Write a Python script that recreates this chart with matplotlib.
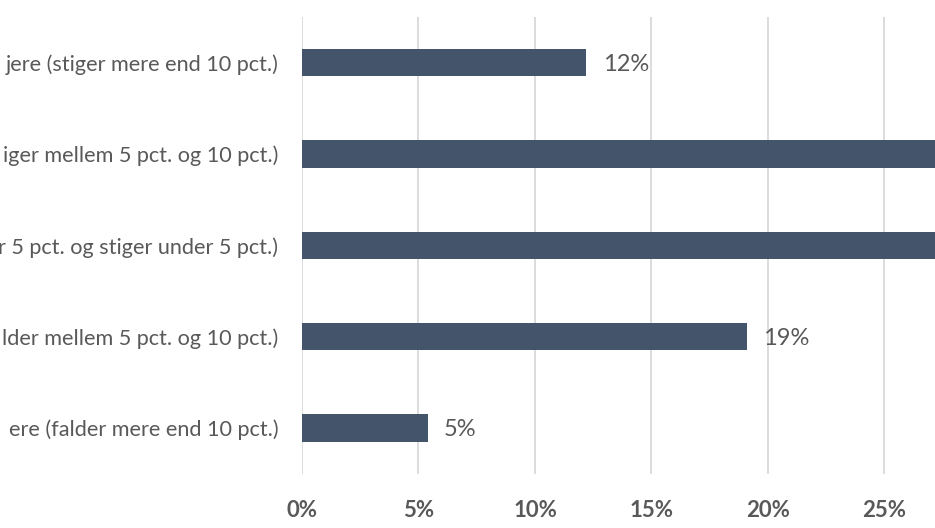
import matplotlib
matplotlib.use("Agg")
import matplotlib.pyplot as plt
from matplotlib.ticker import PercentFormatter

# categories top to bottom (the picture is cropped, so only the tail of each label shows)
categories = [
    "jere (stiger mere end 10 pct.)",
    "iger mellem 5 pct. og 10 pct.)",
    "r 5 pct. og stiger under 5 pct.)",
    "lder mellem 5 pct. og 10 pct.)",
    "ere (falder mere end 10 pct.)",
]
shares = [0.122, 0.31, 0.33, 0.191, 0.054]
x_ticks = [0.0, 0.05, 0.10, 0.15, 0.20, 0.25]
x_max = 0.2717  # right edge of the cropped view

BAR_COLOR = "#44546A"
TEXT_COLOR = "#595959"
GRID_COLOR = "#D9D9D9"

plt.rcParams["font.family"] = ["Lato", "DejaVu Sans"]

fig = plt.figure(figsize=(9.35, 5.28), dpi=100)
ax = fig.add_axes([302 / 935, 54.5 / 528, 633 / 935, 456.5 / 528])

y = list(range(len(categories)))
ax.barh(y, shares, height=0.3, color=BAR_COLOR, zorder=3)

for yi, v in zip(y, shares):
    if v < x_max - 0.03:
        ax.text(v + 0.007, yi, f"{v:.0%}", va="center_baseline", ha="left",
                fontsize=17, color=TEXT_COLOR, zorder=4)

ax.set_xlim(0, x_max)
ax.set_ylim(len(categories) - 0.5, -0.5)
ax.set_xticks(x_ticks)
ax.xaxis.set_major_formatter(PercentFormatter(1.0, decimals=0))
ax.set_yticks(y)
ax.set_yticklabels(categories)

ax.grid(axis="x", color=GRID_COLOR, linewidth=1.3, zorder=0)
for side in ["top", "right", "bottom", "left"]:
    ax.spines[side].set_visible(False)
ax.tick_params(axis="y", length=0, pad=17, labelsize=15.6, labelcolor=TEXT_COLOR)
ax.tick_params(axis="x", length=0, pad=19, labelsize=16, labelcolor=TEXT_COLOR)
for lab in ax.get_xticklabels():
    lab.set_fontweight("bold")

fig.savefig("out.png", dpi=100)
